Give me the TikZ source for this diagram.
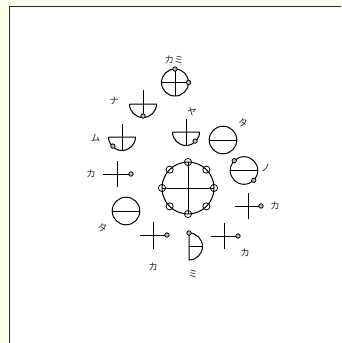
\documentclass[tikz,border=0pt]{standalone}
\usepackage{fontspec}
\newfontfamily\jpfont{Noto Sans CJK JP}
\definecolor{papel}{RGB}{255,255,238}
\definecolor{marco}{RGB}{40,40,40}
\begin{document}
\begin{tikzpicture}[
            x=1pt, y=-1pt,
            trazo/.style={line width=1pt, black},
            punto/.style={line width=0.8pt, black, fill=black!25},
            anillo/.style={line width=0.8pt, black},
            etiqueta/.style={font=\jpfont\fontsize{9.5}{9.5}\selectfont, inner sep=0pt, text=black!85}
        ]
            \useasboundingbox (0,0) rectangle (341,343);

            % Fondo y marco
            \fill[papel] (0,0) rectangle (341,343);
            \fill[white] (10,7) rectangle (341,343);
            \draw[marco, line width=1.6pt] (9.5,343) -- (9.5,6.5) -- (341,6.5);

            % Signo central
            \draw[trazo] (188,188) circle[radius=26];
            \draw[trazo] (188,162) -- (188,214) (162,188) -- (214,188);
            \foreach \a in {0,45,...,315}
                \draw[anillo] (188,188) ++(\a:26) circle[radius=3.6];

            % Kami
            \draw[trazo] (175,82.5) circle[radius=13.5];
            \draw[trazo] (175,69) -- (175,96) (161.5,82.5) -- (188.5,82.5);
            \draw[punto] (175,69) circle[radius=2.2] (188.5,82.5) circle[radius=2.2];
            \node (kami) [etiqueta] at (174,60) {カミ};

            % Na
            \draw[trazo] (129.5,104) -- (156.5,104) arc[start angle=0, end angle=180, radius=13.5];
            \draw[trazo] (143,90) -- (143,117.5);
            \draw[punto] (143,116) circle[radius=2.2];
            \node (na) [etiqueta] at (114,101) {ナ};

            % Mu
            \draw[trazo] (108.5,137) -- (135.5,137) arc[start angle=0, end angle=180, radius=13.5];
            \draw[trazo] (122,124) -- (122,150.5);
            \draw[punto] (112.9,146.1) circle[radius=2.2];
            \node (mu) [etiqueta] at (95.5,138) {ム};

            % Ya
            \draw[trazo] (172.5,132) -- (199.5,132) arc[start angle=0, end angle=180, radius=13.5];
            \draw[trazo] (186,119) -- (186,145.5);
            \draw[punto] (195.1,141.1) circle[radius=2.2];
            \node (ya) [etiqueta] at (192,112) {ヤ};

            % Ta (derecha)
            \draw[trazo] (223,140) circle[radius=13.8];
            \draw[trazo] (209.2,140) -- (236.8,140);
            \node (ta1) [etiqueta] at (243,123) {タ};

            % No
            \draw[trazo] (244,170.5) circle[radius=13.8];
            \draw[trazo] (230.2,170.5) -- (257.8,170.5);
            \draw[punto] (234.2,160.7) circle[radius=2.2] (253.8,180.3) circle[radius=2.2];
            \node (no) [etiqueta] at (265.5,168) {ノ};

            % Ka (derecha)
            \draw[trazo] (248,193) -- (248,219) (234.5,206) -- (259,206);
            \draw[punto] (261,206) circle[radius=2.2];
            \node (ka1) [etiqueta] at (275,206) {カ};

            % Ka (abajo derecha)
            \draw[trazo] (224,223) -- (224,249) (210.5,236) -- (236,236);
            \draw[punto] (238,236) circle[radius=2.2];
            \node (ka2) [etiqueta] at (245,253) {カ};

            % Mi
            \draw[trazo] (189,233) -- (189,260) arc[start angle=90, end angle=-90, radius=13.5];
            \draw[trazo] (189,246.5) -- (202.5,246.5);
            \draw[punto] (189,233) circle[radius=2.2];
            \node (mi) [etiqueta] at (193,274) {ミ};

            % Ka (abajo izquierda)
            \draw[trazo] (153,222) -- (153,249) (139.5,235) -- (165,235);
            \draw[punto] (167,235) circle[radius=2.2];
            \node (ka3) [etiqueta] at (153,267) {カ};

            % Ta (izquierda)
            \draw[trazo] (126,211) circle[radius=13.8];
            \draw[trazo] (112.2,211) -- (139.8,211);
            \node (ta2) [etiqueta] at (102.5,227.5) {タ};

            % Ka (izquierda)
            \draw[trazo] (117,161) -- (117,187) (103,174) -- (129,174);
            \draw[punto] (131,174) circle[radius=2.2];
            \node (ka4) [etiqueta] at (91,174) {カ};

        \end{tikzpicture}
\end{document}
